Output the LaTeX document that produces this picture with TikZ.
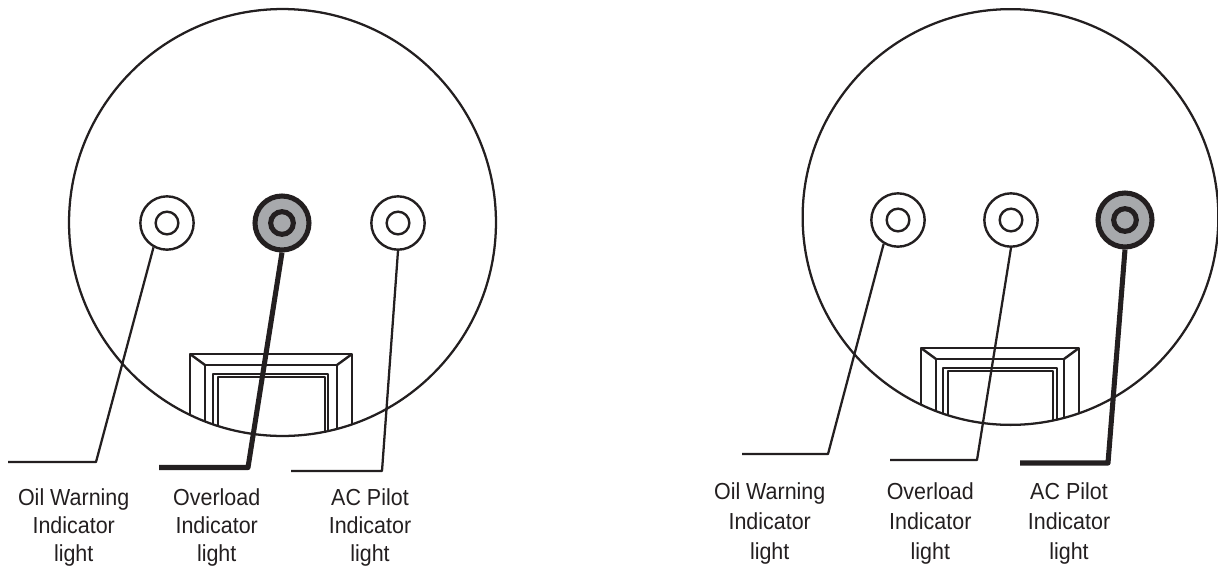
\documentclass[tikz,border=0pt]{standalone}
\usepackage{fontspec}
\setmainfont[FakeStretch=0.925]{Liberation Sans}
\definecolor{ink}{HTML}{231F20}
\definecolor{lampgray}{HTML}{A7A9AC}
\tikzset{
  x=0.75pt,y=-0.75pt,
  face/.style={draw=ink,line width=1.7pt,circle,inner sep=0pt},
  lamp/.style={draw=ink,line width=1.8pt,circle,inner sep=0pt,minimum size=40pt},
  lampcore/.style={draw=ink,line width=1.8pt,circle,inner sep=0pt,minimum size=17pt},
  lampon/.style={draw=ink,fill=lampgray,line width=3.8pt,circle,inner sep=0pt,minimum size=40.5pt},
  lampcoreon/.style={draw=ink,fill=lampgray,line width=3.8pt,circle,inner sep=0pt,minimum size=17pt},
  leader/.style={draw=ink,line width=1.7pt,line join=round},
  leaderon/.style={draw=ink,line width=3.8pt,line join=round},
  sw/.style={draw=ink,line width=1.8pt,line join=round},
  swinner/.style={draw=ink,line width=1.5pt,line join=round},
  lblL/.style={align=center,font=\fontsize{17.4}{21.2}\selectfont,text=ink,inner sep=0pt},
  lblR/.style={align=center,font=\fontsize{17.4}{22.6}\selectfont,text=ink,inner sep=0pt}
}
\begin{document}
\begin{tikzpicture}
\useasboundingbox (0,0) rectangle (1218,569);

% ---------- left panel ----------
\begin{scope}
  \clip (282.5,222.5) circle[radius=160.1pt];
  \draw[sw] (190,440) -- (190,354) -- (352,354) -- (352,440);
  \draw[sw] (205,440) -- (205,365) -- (337,365) -- (337,440);
  \draw[sw] (190,354) -- (205,365) (352,354) -- (337,365);
  \draw[swinner] (213,440) -- (213,373.5) -- (328,373.5) -- (328,440);
  \draw[swinner] (217.5,440) -- (217.5,376.5) -- (324.5,376.5) -- (324.5,440);
\end{scope}
\node[face,minimum size=320.2pt] (faceL) at (282.5,222.5) {};
\node[lamp] (oilL) at (167,223) {};
\node[lampcore] (oilLc) at (167,223) {};
\node[lampon] (ovL) at (282,223) {};
\node[lampcoreon] (ovLc) at (282,223) {};
\node[lamp] (acL) at (398,223) {};
\node[lampcore] (acLc) at (398,223) {};
\coordinate (oilLa) at (96,462); \coordinate (oilLb) at (8,462);
\coordinate (ovLa) at (248,467.5); \coordinate (ovLb) at (159,467.5);
\coordinate (acLa) at (382,471); \coordinate (acLb) at (291,471);
\draw[leader] (oilL.-119) -- (oilLa) -- (oilLb);
\draw[leaderon] (ovL.south) -- (ovLa) -- (ovLb);
\draw[leader] (acL.south) -- (acLa) -- (acLb);
\node[lblL] (oilLt) at (73.7,527.5) {Oil Warning\\Indicator\\light};
\node[lblL] (ovLt) at (216.7,527.5) {Overload\\Indicator\\light};
\node[lblL] (acLt) at (370,527.5) {AC Pilot\\Indicator\\light};

% ---------- right panel ----------
\begin{scope}
  \clip (1010.5,217) circle[radius=155.9pt];
  \draw[sw] (921,435) -- (921,348) -- (1079,348) -- (1079,435);
  \draw[sw] (936,435) -- (936,359) -- (1064,359) -- (1064,435);
  \draw[sw] (921,348) -- (936,359) (1079,348) -- (1064,359);
  \draw[swinner] (943,435) -- (943,367.5) -- (1057,367.5) -- (1057,435);
  \draw[swinner] (947.5,435) -- (947.5,370.5) -- (1052.5,370.5) -- (1052.5,435);
\end{scope}
\node[face,minimum size=311.8pt] (faceR) at (1010.5,217) {};
\node[lamp] (oilR) at (898,220) {};
\node[lampcore] (oilRc) at (898,220) {};
\node[lamp] (ovR) at (1011,220) {};
\node[lampcore] (ovRc) at (1011,220) {};
\node[lampon] (acR) at (1125,220) {};
\node[lampcoreon] (acRc) at (1125,220) {};
\coordinate (oilRa) at (828,454); \coordinate (oilRb) at (742,454);
\coordinate (ovRa) at (977,460); \coordinate (ovRb) at (890,460);
\coordinate (acRa) at (1108,463); \coordinate (acRb) at (1020,463);
\draw[leader] (oilR.-121) -- (oilRa) -- (oilRb);
\draw[leader] (ovR.south) -- (ovRa) -- (ovRb);
\draw[leaderon] (acR.south) -- (acRa) -- (acRb);
\node[lblR] (oilRt) at (769.7,523.5) {Oil Warning\\Indicator\\light};
\node[lblR] (ovRt) at (930.3,523.5) {Overload\\Indicator\\light};
\node[lblR] (acRt) at (1069,523.5) {AC Pilot\\Indicator\\light};
\end{tikzpicture}
\end{document}
